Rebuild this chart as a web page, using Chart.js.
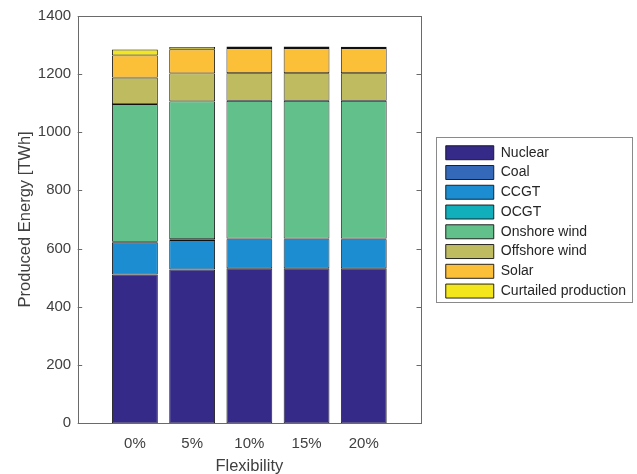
<!DOCTYPE html>
<html>
<head>
<meta charset="utf-8">
<script src="https://cdn.jsdelivr.net/npm/chart.js@4.4.1/dist/chart.umd.min.js"></script>
<style>
html,body{margin:0;padding:0;background:#fff;}
#wrap{width:637px;height:474px;position:relative;}
</style>
</head>
<body>
<div id="wrap"><canvas id="c" width="637" height="474"></canvas></div>
<script>
// ---- data ----
const categories = ['0%', '5%', '10%', '15%', '20%'];
const nuclear   = [511, 528, 532, 532, 532];
const coal      = [0, 0, 0, 0, 0];
const ccgt      = [109, 101, 100, 100, 100];
const ocgt      = [3, 3, 2, 2, 2];
const onshore   = [473, 473, 473, 473, 473];
const offshore  = [91, 96, 95, 95, 95];
const solar     = [76, 83, 86, 86, 86];
const curtailed = [20, 8, 6, 6, 5];
const yTicks    = [0, 200, 400, 600, 800, 1000, 1200, 1400];

const seriesNames  = ['Nuclear', 'Coal', 'CCGT', 'OCGT', 'Onshore wind', 'Offshore wind', 'Solar', 'Curtailed production'];
const seriesValues = [nuclear, coal, ccgt, ocgt, onshore, offshore, solar, curtailed];
const seriesColors = ['#352a87', '#3468b8', '#1c8dd0', '#11aebb', '#62c08a', '#bfbb61', '#fbbf38', '#f4e61c'];

// pad with empty slots so the category axis spans [0, 6] like the original
const labels = [''].concat(categories, ['']);
const pad = arr => [null].concat(arr, [null]);

const datasets = seriesNames.map((name, i) => ({
  label: name,
  data: pad(seriesValues[i]),
  backgroundColor: seriesColors[i],
  borderColor: '#111111',
  borderWidth: 0.9,
  borderSkipped: false,
  barPercentage: 0.8,
  categoryPercentage: 1.0,
  yAxisID: 'y'
}));

const AXIS_COLOR = '#6a6a6a';
const TEXT_COLOR = '#404040';
const FONT = 'Liberation Sans, Arial, Helvetica, sans-serif';

const frame = {
  id: 'frame',
  beforeInit(chart) {
    const lg = chart.legend;
    if (lg) {
      const origFit = lg.fit;
      lg.fit = function() {
        origFit.call(this);
        this.width = 192;
      };
    }
  },
  afterLayout(chart) {
    const lg = chart.legend;
    if (lg) { lg.top += 2.5; lg.bottom += 2.5; }
  },
  afterDraw(chart) {
    const ctx = chart.ctx;
    const a = chart.chartArea;
    const ys = chart.scales.y;
    ctx.save();
    ctx.strokeStyle = AXIS_COLOR;
    ctx.lineWidth = 1;
    // axes box
    ctx.strokeRect(Math.round(a.left) + 0.5, Math.round(a.top) + 0.5,
                   Math.round(a.right) - Math.round(a.left), Math.round(a.bottom) - Math.round(a.top));
    // inward y ticks, left and right
    ctx.beginPath();
    yTicks.forEach(v => {
      const py = Math.round(ys.getPixelForValue(v)) + 0.5;
      ctx.moveTo(a.left, py); ctx.lineTo(a.left + 4.5, py);
      ctx.moveTo(a.right, py); ctx.lineTo(a.right - 4.5, py);
    });
    ctx.stroke();
    // legend border
    const lg = chart.legend;
    if (lg && lg.legendHitBoxes && lg.legendHitBoxes.length) {
      ctx.strokeStyle = '#8a8a8a';
      ctx.strokeRect(436.5, 137.5, 196, 165);
    }
    ctx.restore();
  }
};

new Chart(document.getElementById('c'), {
  type: 'bar',
  data: { labels, datasets },
  plugins: [frame],
  options: {
    responsive: false,
    animation: false,
    devicePixelRatio: 1,
    layout: { padding: { top: 15.3, right: 5, left: 0, bottom: 0 } },
    scales: {
      x: {
        stacked: true,
        offset: false,
        grid: { display: false, drawTicks: false },
        border: { display: false },
        ticks: {
          color: TEXT_COLOR, font: { family: FONT, size: 15 },
          padding: 12, maxRotation: 0, autoSkip: false
        },
        title: {
          display: true, text: 'Flexibility', color: TEXT_COLOR,
          font: { family: FONT, size: 16.5 }, padding: { top: 0, bottom: -2 }
        },
        afterFit(s) { s.height = 50.7; }
      },
      y: {
        stacked: true,
        min: 0, max: 1400,
        grid: { display: false, drawTicks: false },
        border: { display: false },
        afterBuildTicks(s) { s.ticks = yTicks.map(v => ({ value: v })); },
        ticks: {
          color: TEXT_COLOR, font: { family: FONT, size: 15 }, padding: 6.5,
          callback: v => String(v)
        },
        title: {
          display: true, text: 'Produced Energy [TWh]', color: TEXT_COLOR,
          font: { family: FONT, size: 16.5 }, padding: { top: 16, bottom: 0 }
        },
        afterFit(s) { s.width = 77.7; }
      },
      y2: {
        position: 'right',
        min: 0, max: 1400,
        grid: { display: false, drawTicks: false },
        border: { display: false },
        ticks: { display: false },
        afterFit(s) { s.width = 19; }
      }
    },
    plugins: {
      legend: {
        position: 'right',
        fullSize: false,
        align: 'center',
        labels: {
          boxWidth: 48, boxHeight: 14, padding: 5.76,
          color: '#262626',
          font: { family: FONT, size: 14 }
        }
      },
      tooltip: { enabled: false }
    }
  }
});
</script>
</body>
</html>
